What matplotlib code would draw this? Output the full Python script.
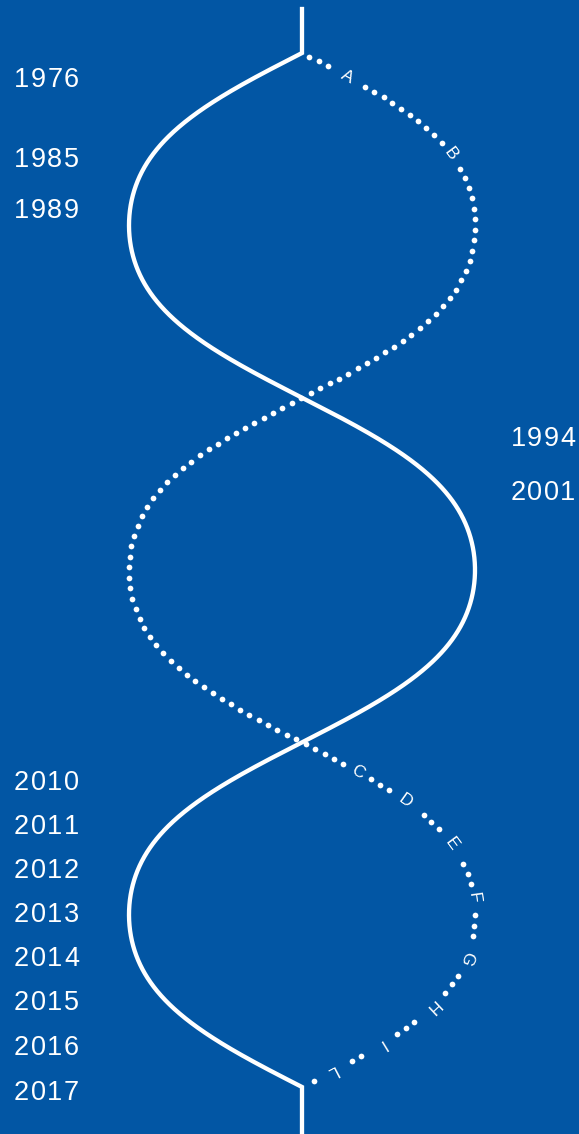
import matplotlib
matplotlib.use("Agg")
import matplotlib.pyplot as plt, numpy as np

# data
left_years = ["1976", "1985", "1989", "2010", "2011", "2012", "2013", "2014", "2015", "2016", "2017"]
left_year_y = [77, 157, 207.5, 779.5, 823.5, 868, 912, 956.5, 1000.5, 1045, 1090]
right_years = ["1994", "2001"]
right_year_y = [436, 490]
letters = ["A", "B", "C", "D", "E", "F", "G", "H", "I", "L"]
letter_y = [76.7, 154, 771.7, 801, 844, 898, 958, 1006.7, 1044, 1071.7]

# layout of the helix
bg = "#0256A4"
cx, amp = 302, 173
y0, y1 = 53, 1087
half = (y1 - y0) / 3
warp = 0.12

def helix(y, side):
    th = np.pi * (np.asarray(y) - y0) / half
    th = th + warp * np.sin(2 * th)
    return cx + side * amp * np.sin(th)

fig = plt.figure(figsize=(5.79, 11.34), dpi=100)
fig.patch.set_facecolor(bg)
ax = fig.add_axes([0, 0, 1, 1])
ax.set_facecolor(bg)
ax.set_xlim(0, 579)
ax.set_ylim(1134, 0)
ax.axis("off")

yy = np.linspace(y0, y1, 4000)

# dotted strand: dots at equal arc length, leaving gaps for the letters
xd = helix(yy, +1)
seg = np.hypot(np.diff(xd), np.diff(yy))
arc = np.concatenate([[0], np.cumsum(seg)])
let_arc = np.interp(letter_y, yy, arc)
step = 10.6
dot_s = np.arange(8, arc[-1] - 5, step)
keep = np.ones(len(dot_s), bool)
for la in let_arc:
    keep &= np.abs(dot_s - la) > 13.5
dot_s = dot_s[keep]
dx = np.interp(dot_s, arc, xd)
dy = np.interp(dot_s, arc, yy)
ax.scatter(dx, dy, s=17, color="white", linewidths=0, zorder=2)

# letters along the dotted strand
for lab, ly in zip(letters, letter_y):
    lx = helix(ly, +1)
    tx = helix(ly + 0.5, +1) - helix(ly - 0.5, +1)
    ang = np.degrees(np.arctan2(-1.0, tx))
    ax.text(lx, ly, lab, color="white", fontsize=12.5, family="Liberation Sans",
            rotation=ang, rotation_mode="anchor", ha="center", va="center", zorder=3)

# solid strand with the vertical stems
xs = helix(yy, -1)
ax.plot(np.concatenate([[cx], xs, [cx]]), np.concatenate([[9], yy, [1134]]),
        color="white", lw=3.1, solid_joinstyle="miter", zorder=4)

# years with a little letter spacing
def year(txt, xc, y):
    adv = 16.6
    for i, ch in enumerate(txt):
        ax.text(xc + (i - 1.5) * adv, y, ch, color="white", fontsize=19.5,
                family="Liberation Sans", ha="center", va="center_baseline")

for t, y in zip(left_years, left_year_y):
    year(t, 46.5, y)
for t, y in zip(right_years, right_year_y):
    year(t, 543, y)

fig.savefig("out.png", dpi=100, facecolor=bg)
